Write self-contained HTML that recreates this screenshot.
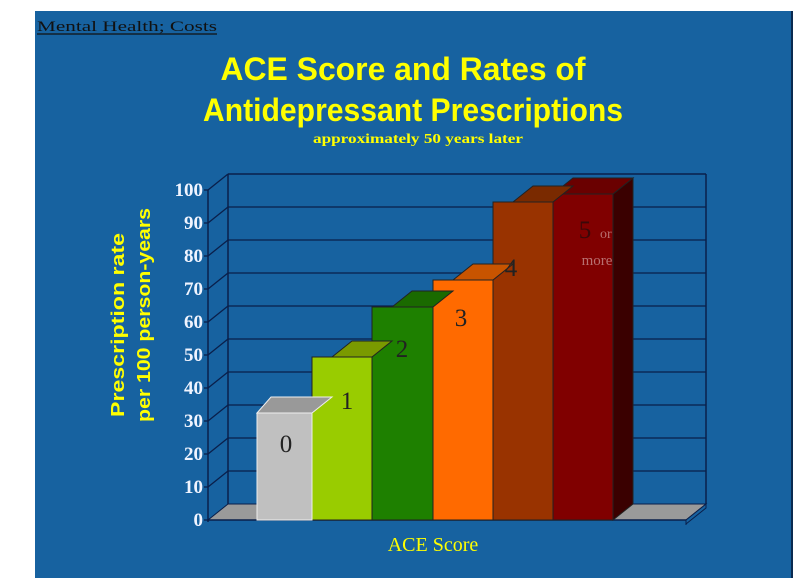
<!DOCTYPE html>
<html><head><meta charset="utf-8"><style>
html,body{margin:0;padding:0;background:#fff;}
svg{display:block}
</style></head><body>
<svg width="803" height="588" viewBox="0 0 803 588" xmlns="http://www.w3.org/2000/svg">
<rect x="35" y="11" width="757" height="567" fill="#1762a0"/>
<line x1="792" y1="11" x2="792" y2="578" stroke="#0a2a50" stroke-width="2"/>
<text x="37" y="31" font-family="Liberation Serif, serif" font-size="15" fill="#111" textLength="180" lengthAdjust="spacingAndGlyphs">Mental Health;  Costs</text>
<line x1="37" y1="34" x2="217" y2="34" stroke="#111" stroke-width="1.2"/>
<g font-family="Liberation Sans, sans-serif" font-weight="bold" fill="#ffff00" text-anchor="middle">
<text x="403" y="80" font-size="32" textLength="365" lengthAdjust="spacingAndGlyphs">ACE Score and Rates of</text>
<text x="413" y="121" font-size="32" textLength="420" lengthAdjust="spacingAndGlyphs">Antidepressant Prescriptions</text>
</g>
<text x="418" y="143" font-family="Liberation Serif, serif" font-weight="bold" font-size="14" fill="#ffff00" text-anchor="middle" textLength="210" lengthAdjust="spacingAndGlyphs">approximately 50 years later</text>
<g stroke="#0a1f4a" stroke-width="1.5" fill="none">
<line x1="228" y1="174" x2="228" y2="504"/>
<line x1="706" y1="174" x2="706" y2="504"/>
<line x1="228" y1="174" x2="706" y2="174"/>
</g>
<g stroke="#0a1f4a" stroke-width="1.3">
<line x1="228" y1="207" x2="706" y2="207"/><line x1="208" y1="223" x2="228" y2="207"/>
<line x1="228" y1="240" x2="706" y2="240"/><line x1="208" y1="256" x2="228" y2="240"/>
<line x1="228" y1="273" x2="706" y2="273"/><line x1="208" y1="289" x2="228" y2="273"/>
<line x1="228" y1="306" x2="706" y2="306"/><line x1="208" y1="322" x2="228" y2="306"/>
<line x1="228" y1="339" x2="706" y2="339"/><line x1="208" y1="355" x2="228" y2="339"/>
<line x1="228" y1="372" x2="706" y2="372"/><line x1="208" y1="388" x2="228" y2="372"/>
<line x1="228" y1="405" x2="706" y2="405"/><line x1="208" y1="421" x2="228" y2="405"/>
<line x1="228" y1="438" x2="706" y2="438"/><line x1="208" y1="454" x2="228" y2="438"/>
<line x1="228" y1="471" x2="706" y2="471"/><line x1="208" y1="487" x2="228" y2="471"/>
<line x1="208" y1="190" x2="228" y2="174"/>
</g>
<polygon points="208,520 228,504 706,504 686,520" fill="#9a9a9a" stroke="#0a1f4a" stroke-width="1"/>
<polygon points="686,520 706,504 706,508 686,524" fill="#1762a0" stroke="#0a1f4a" stroke-width="1"/>
<line x1="208" y1="520" x2="686" y2="520" stroke="#0a1f4a" stroke-width="1.5"/>
<line x1="686" y1="520" x2="686" y2="525" stroke="#0a1f4a"/>
<line x1="208" y1="190" x2="208" y2="522" stroke="#0a1f4a" stroke-width="1.5"/>
<g stroke="#0a1f4a" stroke-width="1.3">
<line x1="204" y1="190" x2="208" y2="190"/><line x1="204" y1="223" x2="208" y2="223"/><line x1="204" y1="256" x2="208" y2="256"/><line x1="204" y1="289" x2="208" y2="289"/><line x1="204" y1="322" x2="208" y2="322"/><line x1="204" y1="355" x2="208" y2="355"/><line x1="204" y1="388" x2="208" y2="388"/><line x1="204" y1="421" x2="208" y2="421"/><line x1="204" y1="454" x2="208" y2="454"/><line x1="204" y1="487" x2="208" y2="487"/><line x1="204" y1="520" x2="208" y2="520"/>
</g>
<g font-family="Liberation Serif, serif" font-weight="bold" font-size="19" fill="#f0f4ff" text-anchor="end">
<text x="203" y="196">100</text><text x="203" y="229">90</text><text x="203" y="262">80</text><text x="203" y="295">70</text><text x="203" y="328">60</text><text x="203" y="361">50</text><text x="203" y="394">40</text><text x="203" y="427">30</text><text x="203" y="460">20</text><text x="203" y="493">10</text><text x="203" y="526">0</text>
</g>
<g font-family="Liberation Sans, sans-serif" font-weight="bold" font-size="18" fill="#ffff00" text-anchor="middle">
<text transform="translate(124,325) rotate(-90)" textLength="184" lengthAdjust="spacingAndGlyphs">Prescription rate</text>
<text transform="translate(150,315) rotate(-90)" textLength="214" lengthAdjust="spacingAndGlyphs">per 100 person-years</text>
</g>
<g stroke="#222" stroke-width="1">
<polygon points="613,194 633,178 633,504 613,520" fill="#3a0000"/>
<polygon points="553,194 573,178 633,178 613,194" fill="#6a0000"/>
<rect x="553" y="194" width="60" height="326" fill="#800000"/>
<polygon points="513,202 533,186 573,186 553,202" fill="#7a2a00"/>
<rect x="493" y="202" width="60" height="318" fill="#993300"/>
<polygon points="453,280 473,264 513,264 493,280" fill="#c85400"/>
<rect x="433" y="280" width="60" height="240" fill="#ff6a00"/>
<polygon points="392,307 412,291 453,291 433,307" fill="#1a6a00"/>
<rect x="372" y="307" width="61" height="213" fill="#1e8000"/>
<polygon points="332,357 352,341 392,341 372,357" fill="#7a9a00"/>
<rect x="312" y="357" width="60" height="163" fill="#99cc00"/>
<polygon points="257,413 271,397 332,397 312,413" fill="#999" stroke="#eee"/>
<rect x="257" y="413" width="55" height="107" fill="#c0c0c0" stroke="#eee"/>
</g>
<g font-family="Liberation Serif, serif" font-size="25" fill="#222" text-anchor="middle">
<text x="286" y="452">0</text>
<text x="347" y="409">1</text>
<text x="402" y="357">2</text>
<text x="461" y="326">3</text>
<text x="511" y="276">4</text>
<text x="585" y="238" fill="#3a0808">5</text>
</g>
<text x="600" y="238" font-family="Liberation Serif, serif" font-size="14" fill="#b87070">or</text>
<text x="597" y="265" font-family="Liberation Serif, serif" font-size="15" fill="#b87070" text-anchor="middle">more</text>
<text x="433" y="551" font-family="Liberation Serif, serif" font-size="20" fill="#ffff00" text-anchor="middle">ACE Score</text>
</svg>
</body></html>
